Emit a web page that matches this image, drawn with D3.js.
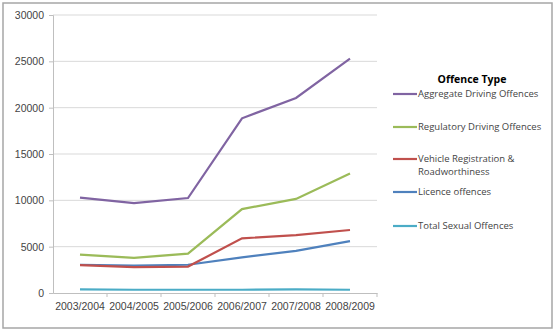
<!doctype html>
<html lang="en">
    <head>
        <meta charset="UTF-8" />
        <title>Offence Type</title>
        <script src="https://d3js.org/d3.v7.min.js"></script>
        <style>
            body {
                margin: 0;
                background: #fff;
                font-family: "Open Sans", sans-serif;
            }
            .axis text {
                font-size: 10.5px;
                fill: #444;
            }
        </style>
    </head>
    <body>
        <svg id="chart" width="557" height="332"></svg>
        <script>
            const years = ["2003/2004", "2004/2005", "2005/2006", "2006/2007", "2007/2008", "2008/2009"];
            const aggregate = [10300, 9700, 10250, 18850, 21050, 25300];
            const regulatory = [4150, 3800, 4250, 9050, 10150, 12900];
            const vehicle = [3000, 2800, 2850, 5900, 6250, 6800];
            const licence = [3050, 2950, 3050, 3850, 4550, 5600];
            const sexual = [400, 350, 350, 350, 400, 350];
            const yTicks = [0, 5000, 10000, 15000, 20000, 25000, 30000];

            const series = [
                { name: ["Aggregate Driving Offences"], values: aggregate, color: "#8064a2" },
                { name: ["Regulatory Driving Offences"], values: regulatory, color: "#9bbb59" },
                { name: ["Vehicle Registration &", "Roadworthiness"], values: vehicle, color: "#c0504d" },
                { name: ["Licence offences"], values: licence, color: "#4f81bd" },
                { name: ["Total Sexual Offences"], values: sexual, color: "#4bacc6" },
            ];

            const svg = d3.select("#chart");
            const margin = { top: 15, right: 180, bottom: 39, left: 53 };
            const width = 557, height = 332;

            // outer frame
            svg.append("rect")
                .attr("x", 3).attr("y", 3)
                .attr("width", 549).attr("height", 325)
                .attr("fill", "none").attr("stroke", "#a6a6a6").attr("stroke-width", 1.5);

            const x = d3.scaleBand().domain(years).range([margin.left, width - margin.right]);
            const y = d3.scaleLinear().domain([0, 30000]).range([height - margin.bottom, margin.top]);

            // gridlines
            svg.append("g")
                .selectAll("line")
                .data(yTicks.slice(1))
                .join("line")
                .attr("x1", margin.left).attr("x2", width - margin.right)
                .attr("y1", (d) => y(d)).attr("y2", (d) => y(d))
                .attr("stroke", "#d9d9d9").attr("stroke-width", 1);

            const yAxis = svg.append("g")
                .attr("class", "axis")
                .attr("transform", `translate(${margin.left},0)`)
                .call(d3.axisLeft(y).tickValues(yTicks).tickFormat(d3.format("d")).tickSize(4).tickPadding(5));
            yAxis.select(".domain").attr("stroke", "#bfbfbf");
            yAxis.selectAll(".tick line").attr("stroke", "#bfbfbf");

            const xAxis = svg.append("g")
                .attr("class", "axis")
                .attr("transform", `translate(0,${height - margin.bottom})`)
                .call(d3.axisBottom(x).tickSize(0).tickPadding(10));
            xAxis.select(".domain").attr("stroke", "#bfbfbf");
            // tick marks between categories
            xAxis.append("g")
                .selectAll("line")
                .data(years)
                .join("line")
                .attr("x1", (d) => x(d) + x.bandwidth()).attr("x2", (d) => x(d) + x.bandwidth())
                .attr("y1", 0).attr("y2", 4)
                .attr("stroke", "#bfbfbf");

            const line = d3.line()
                .x((d, i) => x(years[i]) + x.bandwidth() / 2)
                .y((d) => y(d));

            svg.append("g")
                .selectAll("path")
                .data(series.slice().reverse())
                .join("path")
                .attr("d", (d) => line(d.values))
                .attr("fill", "none")
                .attr("stroke", (d) => d.color)
                .attr("stroke-width", 2.2);

            // legend
            const legend = svg.append("g").attr("transform", "translate(393,0)");
            legend.append("text")
                .attr("x", 79).attr("y", 83)
                .attr("text-anchor", "middle")
                .attr("font-size", 10.5).attr("font-weight", "bold").attr("fill", "#000")
                .text("Offence Type");

            const legendY = [94, 127, 159, 192, 226];
            const items = legend.selectAll("g.item")
                .data(series)
                .join("g")
                .attr("class", "item")
                .attr("transform", (d, i) => `translate(0,${legendY[i]})`);
            items.append("line")
                .attr("x1", 0).attr("x2", 24)
                .attr("stroke", (d) => d.color).attr("stroke-width", 2.2);
            items.append("text")
                .attr("font-size", 9.5).attr("fill", "#444")
                .selectAll("tspan")
                .data((d) => d.name)
                .join("tspan")
                .attr("x", 25)
                .attr("y", (d, i) => i * 13)
                .attr("dy", "0.35em")
                .text((d) => d);
        </script>
    </body>
</html>
